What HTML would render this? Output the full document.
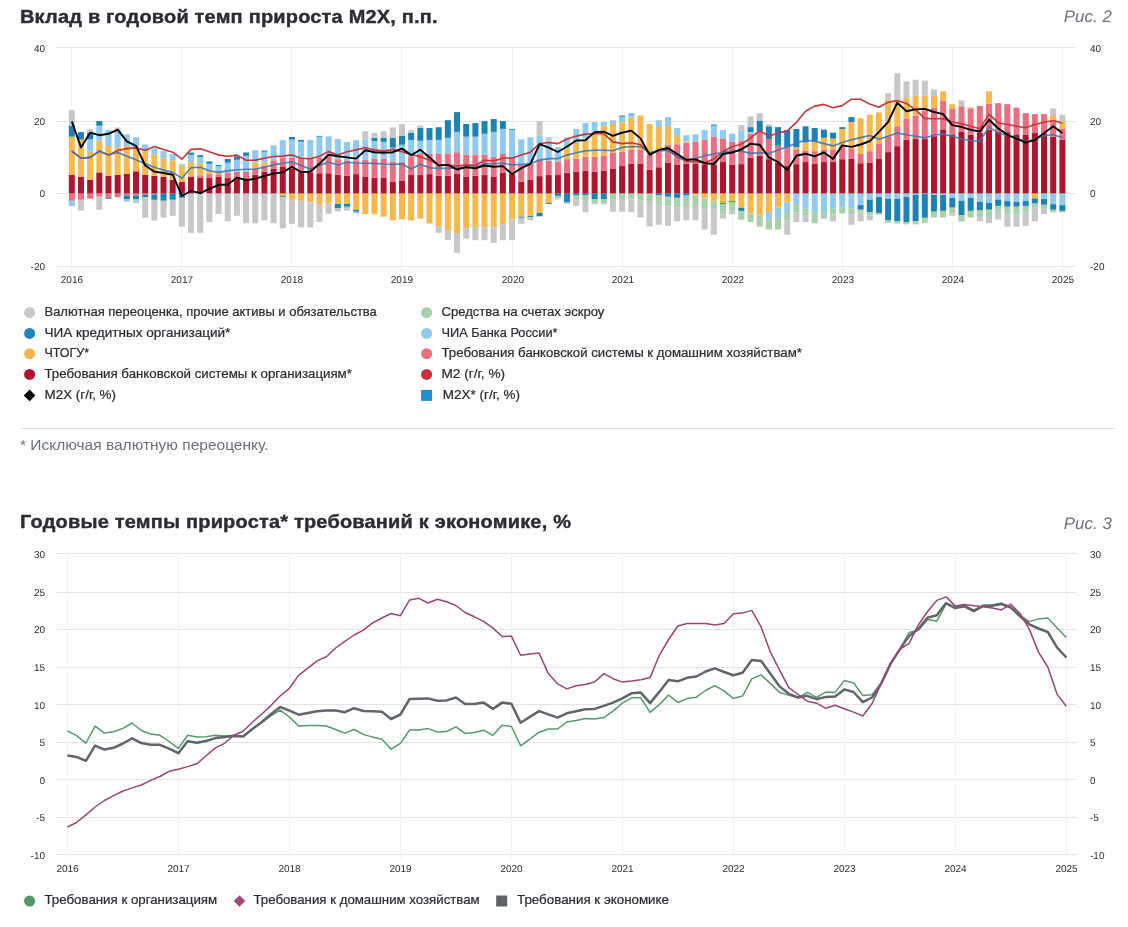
<!DOCTYPE html>
<html lang="ru"><head><meta charset="utf-8"><title>Денежные агрегаты</title>
<style>
html,body{margin:0;padding:0;background:#fff}
body{width:1128px;height:927px;position:relative;overflow:hidden;font-family:"Liberation Sans", sans-serif;color:#2b2d33}
.t{position:absolute;left:20px;font-weight:bold;font-size:18.5px;line-height:22px;white-space:nowrap;color:#2b2d33;letter-spacing:0.2px;-webkit-text-stroke:0.4px #2b2d33;transform:scaleX(1.078);transform-origin:0 0}
.r{position:absolute;right:16px;font-style:italic;font-size:16.8px;line-height:22px;text-rendering:geometricPrecision;letter-spacing:0.1px;color:#6c717a;white-space:nowrap}
.fn{position:absolute;left:20px;top:434.5px;font-size:15.5px;line-height:20px;color:#6c717a;white-space:nowrap}
.hr{position:absolute;left:20px;width:1095px;top:428px;height:1px;background:#e2e2e4}
svg text{font-family:"Liberation Sans", sans-serif;fill:#2b2d33}
svg .ax{font-size:10px;text-rendering:geometricPrecision}
svg .lg{font-size:12.4px;stroke:#2b2d33;stroke-width:0.22px}
</style></head><body>
<div class="t" style="top:5.8px">Вклад в годовой темп прироста М2Х, п.п.</div>
<div class="r" style="top:6.1px">Рис. 2</div>
<svg width="1128" height="927" viewBox="0 0 1128 927" style="position:absolute;left:0;top:0">
<line x1="57" x2="1076" y1="47.5" y2="47.5" stroke="#e4e4e6" stroke-width="1"/>
<text x="45" y="51.9" text-anchor="end" class="ax">40</text>
<text x="1090" y="51.9" text-anchor="start" class="ax">40</text>
<line x1="57" x2="1076" y1="121.5" y2="121.5" stroke="#e4e4e6" stroke-width="1"/>
<text x="45" y="124.6" text-anchor="end" class="ax">20</text>
<text x="1090" y="124.6" text-anchor="start" class="ax">20</text>
<line x1="57" x2="1076" y1="193.5" y2="193.5" stroke="#e4e4e6" stroke-width="1"/>
<text x="45" y="197.3" text-anchor="end" class="ax">0</text>
<text x="1090" y="197.3" text-anchor="start" class="ax">0</text>
<line x1="57" x2="1076" y1="266.5" y2="266.5" stroke="#e4e4e6" stroke-width="1"/>
<text x="45" y="270.0" text-anchor="end" class="ax">-20</text>
<text x="1090" y="270.0" text-anchor="start" class="ax">-20</text>
<line x1="71.5" x2="71.5" y1="47.5" y2="273.5" stroke="#f1f1f3" stroke-width="1"/>
<text x="71.9" y="282.8" text-anchor="middle" class="ax">2016</text>
<line x1="181.5" x2="181.5" y1="47.5" y2="273.5" stroke="#f1f1f3" stroke-width="1"/>
<text x="181.9" y="282.8" text-anchor="middle" class="ax">2017</text>
<line x1="291.5" x2="291.5" y1="47.5" y2="273.5" stroke="#f1f1f3" stroke-width="1"/>
<text x="291.9" y="282.8" text-anchor="middle" class="ax">2018</text>
<line x1="401.5" x2="401.5" y1="47.5" y2="273.5" stroke="#f1f1f3" stroke-width="1"/>
<text x="401.9" y="282.8" text-anchor="middle" class="ax">2019</text>
<line x1="512.5" x2="512.5" y1="47.5" y2="273.5" stroke="#f1f1f3" stroke-width="1"/>
<text x="512.9" y="282.8" text-anchor="middle" class="ax">2020</text>
<line x1="622.5" x2="622.5" y1="47.5" y2="273.5" stroke="#f1f1f3" stroke-width="1"/>
<text x="622.9" y="282.8" text-anchor="middle" class="ax">2021</text>
<line x1="732.5" x2="732.5" y1="47.5" y2="273.5" stroke="#f1f1f3" stroke-width="1"/>
<text x="732.9" y="282.8" text-anchor="middle" class="ax">2022</text>
<line x1="842.5" x2="842.5" y1="47.5" y2="273.5" stroke="#f1f1f3" stroke-width="1"/>
<text x="842.9" y="282.8" text-anchor="middle" class="ax">2023</text>
<line x1="952.5" x2="952.5" y1="47.5" y2="273.5" stroke="#f1f1f3" stroke-width="1"/>
<text x="952.9" y="282.8" text-anchor="middle" class="ax">2024</text>
<line x1="1062.5" x2="1062.5" y1="47.5" y2="273.5" stroke="#f1f1f3" stroke-width="1"/>
<text x="1062.9" y="282.8" text-anchor="middle" class="ax">2025</text>
<rect x="68.80" y="174.73" width="6.0" height="18.87" fill="#b1132c"/>
<rect x="68.80" y="136.68" width="6.0" height="38.06" fill="#f9b94a"/>
<rect x="68.80" y="125.52" width="6.0" height="11.16" fill="#1b82b8"/>
<rect x="68.80" y="110.18" width="6.0" height="15.34" fill="#c7c7c9"/>
<rect x="68.80" y="193.60" width="6.0" height="7.16" fill="#ec6e80"/>
<rect x="68.80" y="200.76" width="6.0" height="5.16" fill="#8ecaf2"/>
<rect x="77.97" y="176.70" width="6.0" height="16.90" fill="#b1132c"/>
<rect x="77.97" y="139.58" width="6.0" height="37.11" fill="#f9b94a"/>
<rect x="77.97" y="132.10" width="6.0" height="7.49" fill="#1b82b8"/>
<rect x="77.97" y="193.60" width="6.0" height="6.22" fill="#ec6e80"/>
<rect x="77.97" y="199.82" width="6.0" height="10.72" fill="#c7c7c9"/>
<rect x="87.14" y="179.68" width="6.0" height="13.92" fill="#b1132c"/>
<rect x="87.14" y="151.69" width="6.0" height="27.99" fill="#f9b94a"/>
<rect x="87.14" y="139.33" width="6.0" height="12.36" fill="#8ecaf2"/>
<rect x="87.14" y="132.68" width="6.0" height="6.65" fill="#1b82b8"/>
<rect x="87.14" y="129.19" width="6.0" height="3.49" fill="#c7c7c9"/>
<rect x="87.14" y="193.60" width="6.0" height="5.05" fill="#ec6e80"/>
<rect x="96.32" y="172.41" width="6.0" height="21.19" fill="#b1132c"/>
<rect x="96.32" y="140.71" width="6.0" height="31.70" fill="#f9b94a"/>
<rect x="96.32" y="125.73" width="6.0" height="14.98" fill="#8ecaf2"/>
<rect x="96.32" y="121.12" width="6.0" height="4.62" fill="#1b82b8"/>
<rect x="96.32" y="193.60" width="6.0" height="3.13" fill="#ec6e80"/>
<rect x="96.32" y="196.73" width="6.0" height="13.01" fill="#c7c7c9"/>
<rect x="105.49" y="175.86" width="6.0" height="17.74" fill="#b1132c"/>
<rect x="105.49" y="145.91" width="6.0" height="29.95" fill="#f9b94a"/>
<rect x="105.49" y="130.13" width="6.0" height="15.78" fill="#8ecaf2"/>
<rect x="105.49" y="193.60" width="6.0" height="4.25" fill="#ec6e80"/>
<rect x="105.49" y="197.85" width="6.0" height="0.95" fill="#1b82b8"/>
<rect x="114.66" y="174.95" width="6.0" height="18.65" fill="#b1132c"/>
<rect x="114.66" y="147.65" width="6.0" height="27.30" fill="#f9b94a"/>
<rect x="114.66" y="129.77" width="6.0" height="17.88" fill="#8ecaf2"/>
<rect x="114.66" y="127.48" width="6.0" height="2.29" fill="#c7c7c9"/>
<rect x="114.66" y="193.60" width="6.0" height="3.67" fill="#ec6e80"/>
<rect x="123.83" y="173.93" width="6.0" height="19.67" fill="#b1132c"/>
<rect x="123.83" y="145.91" width="6.0" height="28.03" fill="#f9b94a"/>
<rect x="123.83" y="134.39" width="6.0" height="11.52" fill="#8ecaf2"/>
<rect x="123.83" y="193.60" width="6.0" height="2.29" fill="#ec6e80"/>
<rect x="123.83" y="195.89" width="6.0" height="3.13" fill="#1b82b8"/>
<rect x="123.83" y="199.02" width="6.0" height="2.54" fill="#8ecaf2"/>
<rect x="133.00" y="171.28" width="6.0" height="22.32" fill="#b1132c"/>
<rect x="133.00" y="147.07" width="6.0" height="24.21" fill="#f9b94a"/>
<rect x="133.00" y="137.26" width="6.0" height="9.81" fill="#8ecaf2"/>
<rect x="133.00" y="193.60" width="6.0" height="1.96" fill="#ec6e80"/>
<rect x="133.00" y="195.56" width="6.0" height="3.45" fill="#1b82b8"/>
<rect x="133.00" y="199.02" width="6.0" height="1.74" fill="#8ecaf2"/>
<rect x="133.00" y="200.76" width="6.0" height="2.29" fill="#c7c7c9"/>
<rect x="142.18" y="174.95" width="6.0" height="18.65" fill="#b1132c"/>
<rect x="142.18" y="151.11" width="6.0" height="23.85" fill="#f9b94a"/>
<rect x="142.18" y="144.42" width="6.0" height="6.69" fill="#8ecaf2"/>
<rect x="142.18" y="193.60" width="6.0" height="1.16" fill="#ec6e80"/>
<rect x="142.18" y="194.76" width="6.0" height="2.29" fill="#1b82b8"/>
<rect x="142.18" y="197.05" width="6.0" height="20.65" fill="#c7c7c9"/>
<rect x="151.35" y="175.86" width="6.0" height="17.74" fill="#b1132c"/>
<rect x="151.35" y="154.34" width="6.0" height="21.52" fill="#f9b94a"/>
<rect x="151.35" y="148.24" width="6.0" height="6.11" fill="#8ecaf2"/>
<rect x="151.35" y="193.60" width="6.0" height="0.80" fill="#ec6e80"/>
<rect x="151.35" y="194.40" width="6.0" height="5.42" fill="#1b82b8"/>
<rect x="151.35" y="199.82" width="6.0" height="20.76" fill="#c7c7c9"/>
<rect x="160.52" y="176.70" width="6.0" height="16.90" fill="#b1132c"/>
<rect x="160.52" y="158.38" width="6.0" height="18.32" fill="#f9b94a"/>
<rect x="160.52" y="151.11" width="6.0" height="7.27" fill="#8ecaf2"/>
<rect x="160.52" y="193.60" width="6.0" height="7.16" fill="#1b82b8"/>
<rect x="160.52" y="200.76" width="6.0" height="16.94" fill="#c7c7c9"/>
<rect x="169.69" y="179.68" width="6.0" height="13.92" fill="#b1132c"/>
<rect x="169.69" y="160.30" width="6.0" height="19.37" fill="#f9b94a"/>
<rect x="169.69" y="153.98" width="6.0" height="6.32" fill="#8ecaf2"/>
<rect x="169.69" y="193.60" width="6.0" height="6.22" fill="#1b82b8"/>
<rect x="169.69" y="199.82" width="6.0" height="15.92" fill="#c7c7c9"/>
<rect x="178.86" y="181.97" width="6.0" height="11.63" fill="#b1132c"/>
<rect x="178.86" y="165.50" width="6.0" height="16.47" fill="#f9b94a"/>
<rect x="178.86" y="164.12" width="6.0" height="1.38" fill="#8ecaf2"/>
<rect x="178.86" y="193.60" width="6.0" height="4.25" fill="#1b82b8"/>
<rect x="178.86" y="197.85" width="6.0" height="28.83" fill="#c7c7c9"/>
<rect x="188.04" y="177.02" width="6.0" height="16.58" fill="#b1132c"/>
<rect x="188.04" y="176.22" width="6.0" height="0.80" fill="#ec6e80"/>
<rect x="188.04" y="162.05" width="6.0" height="14.18" fill="#f9b94a"/>
<rect x="188.04" y="154.78" width="6.0" height="7.27" fill="#8ecaf2"/>
<rect x="188.04" y="152.60" width="6.0" height="2.18" fill="#1b82b8"/>
<rect x="188.04" y="193.60" width="6.0" height="39.19" fill="#c7c7c9"/>
<rect x="197.21" y="177.82" width="6.0" height="15.78" fill="#b1132c"/>
<rect x="197.21" y="175.32" width="6.0" height="2.51" fill="#ec6e80"/>
<rect x="197.21" y="163.79" width="6.0" height="11.52" fill="#f9b94a"/>
<rect x="197.21" y="156.85" width="6.0" height="6.94" fill="#8ecaf2"/>
<rect x="197.21" y="155.14" width="6.0" height="1.71" fill="#1b82b8"/>
<rect x="197.21" y="193.60" width="6.0" height="39.19" fill="#c7c7c9"/>
<rect x="206.38" y="177.82" width="6.0" height="15.78" fill="#b1132c"/>
<rect x="206.38" y="174.15" width="6.0" height="3.67" fill="#ec6e80"/>
<rect x="206.38" y="170.12" width="6.0" height="4.03" fill="#f9b94a"/>
<rect x="206.38" y="163.79" width="6.0" height="6.32" fill="#8ecaf2"/>
<rect x="206.38" y="161.47" width="6.0" height="2.33" fill="#1b82b8"/>
<rect x="206.38" y="193.60" width="6.0" height="28.46" fill="#c7c7c9"/>
<rect x="215.55" y="176.70" width="6.0" height="16.90" fill="#b1132c"/>
<rect x="215.55" y="174.15" width="6.0" height="2.54" fill="#ec6e80"/>
<rect x="215.55" y="171.83" width="6.0" height="2.33" fill="#f9b94a"/>
<rect x="215.55" y="166.08" width="6.0" height="5.74" fill="#8ecaf2"/>
<rect x="215.55" y="164.92" width="6.0" height="1.16" fill="#1b82b8"/>
<rect x="215.55" y="193.60" width="6.0" height="20.39" fill="#c7c7c9"/>
<rect x="224.72" y="177.82" width="6.0" height="15.78" fill="#b1132c"/>
<rect x="224.72" y="172.77" width="6.0" height="5.05" fill="#ec6e80"/>
<rect x="224.72" y="162.63" width="6.0" height="10.14" fill="#8ecaf2"/>
<rect x="224.72" y="158.92" width="6.0" height="3.71" fill="#1b82b8"/>
<rect x="224.72" y="193.60" width="6.0" height="27.66" fill="#c7c7c9"/>
<rect x="233.90" y="177.61" width="6.0" height="15.99" fill="#b1132c"/>
<rect x="233.90" y="171.83" width="6.0" height="5.78" fill="#ec6e80"/>
<rect x="233.90" y="159.76" width="6.0" height="12.07" fill="#8ecaf2"/>
<rect x="233.90" y="156.27" width="6.0" height="3.49" fill="#1b82b8"/>
<rect x="233.90" y="193.60" width="6.0" height="22.14" fill="#c7c7c9"/>
<rect x="243.07" y="178.19" width="6.0" height="15.41" fill="#b1132c"/>
<rect x="243.07" y="171.83" width="6.0" height="6.36" fill="#ec6e80"/>
<rect x="243.07" y="155.72" width="6.0" height="16.10" fill="#8ecaf2"/>
<rect x="243.07" y="152.49" width="6.0" height="3.24" fill="#1b82b8"/>
<rect x="243.07" y="193.60" width="6.0" height="29.63" fill="#c7c7c9"/>
<rect x="252.24" y="174.73" width="6.0" height="18.87" fill="#b1132c"/>
<rect x="252.24" y="168.37" width="6.0" height="6.36" fill="#ec6e80"/>
<rect x="252.24" y="162.63" width="6.0" height="5.74" fill="#f9b94a"/>
<rect x="252.24" y="150.16" width="6.0" height="12.47" fill="#8ecaf2"/>
<rect x="252.24" y="193.60" width="6.0" height="29.63" fill="#c7c7c9"/>
<rect x="261.41" y="171.83" width="6.0" height="21.77" fill="#b1132c"/>
<rect x="261.41" y="165.50" width="6.0" height="6.32" fill="#ec6e80"/>
<rect x="261.41" y="162.63" width="6.0" height="2.87" fill="#f9b94a"/>
<rect x="261.41" y="151.69" width="6.0" height="10.94" fill="#8ecaf2"/>
<rect x="261.41" y="150.53" width="6.0" height="1.16" fill="#1b82b8"/>
<rect x="261.41" y="193.60" width="6.0" height="26.75" fill="#c7c7c9"/>
<rect x="270.58" y="168.95" width="6.0" height="24.65" fill="#b1132c"/>
<rect x="270.58" y="160.30" width="6.0" height="8.65" fill="#ec6e80"/>
<rect x="270.58" y="145.33" width="6.0" height="14.98" fill="#8ecaf2"/>
<rect x="270.58" y="193.60" width="6.0" height="29.63" fill="#c7c7c9"/>
<rect x="279.76" y="166.99" width="6.0" height="26.61" fill="#b1132c"/>
<rect x="279.76" y="157.43" width="6.0" height="9.56" fill="#ec6e80"/>
<rect x="279.76" y="140.17" width="6.0" height="17.27" fill="#8ecaf2"/>
<rect x="279.76" y="193.60" width="6.0" height="2.54" fill="#f9b94a"/>
<rect x="279.76" y="196.14" width="6.0" height="1.13" fill="#1b82b8"/>
<rect x="279.76" y="197.27" width="6.0" height="31.12" fill="#c7c7c9"/>
<rect x="288.93" y="168.37" width="6.0" height="25.23" fill="#b1132c"/>
<rect x="288.93" y="158.01" width="6.0" height="10.36" fill="#ec6e80"/>
<rect x="288.93" y="139.58" width="6.0" height="18.43" fill="#8ecaf2"/>
<rect x="288.93" y="137.04" width="6.0" height="2.54" fill="#1b82b8"/>
<rect x="288.93" y="193.60" width="6.0" height="6.58" fill="#f9b94a"/>
<rect x="288.93" y="200.18" width="6.0" height="23.63" fill="#c7c7c9"/>
<rect x="298.10" y="172.41" width="6.0" height="21.19" fill="#b1132c"/>
<rect x="298.10" y="158.01" width="6.0" height="14.39" fill="#ec6e80"/>
<rect x="298.10" y="141.66" width="6.0" height="16.36" fill="#8ecaf2"/>
<rect x="298.10" y="139.91" width="6.0" height="1.74" fill="#1b82b8"/>
<rect x="298.10" y="193.60" width="6.0" height="7.16" fill="#f9b94a"/>
<rect x="298.10" y="200.76" width="6.0" height="26.72" fill="#c7c7c9"/>
<rect x="307.27" y="172.99" width="6.0" height="20.61" fill="#b1132c"/>
<rect x="307.27" y="157.43" width="6.0" height="15.56" fill="#ec6e80"/>
<rect x="307.27" y="139.91" width="6.0" height="17.52" fill="#8ecaf2"/>
<rect x="307.27" y="193.60" width="6.0" height="8.87" fill="#f9b94a"/>
<rect x="307.27" y="202.47" width="6.0" height="25.01" fill="#c7c7c9"/>
<rect x="316.44" y="173.24" width="6.0" height="20.36" fill="#b1132c"/>
<rect x="316.44" y="157.43" width="6.0" height="15.81" fill="#ec6e80"/>
<rect x="316.44" y="136.68" width="6.0" height="20.76" fill="#8ecaf2"/>
<rect x="316.44" y="135.88" width="6.0" height="0.80" fill="#1b82b8"/>
<rect x="316.44" y="193.60" width="6.0" height="11.20" fill="#f9b94a"/>
<rect x="316.44" y="204.80" width="6.0" height="17.27" fill="#c7c7c9"/>
<rect x="325.62" y="173.24" width="6.0" height="20.36" fill="#b1132c"/>
<rect x="325.62" y="155.72" width="6.0" height="17.52" fill="#ec6e80"/>
<rect x="325.62" y="136.35" width="6.0" height="19.37" fill="#8ecaf2"/>
<rect x="325.62" y="193.60" width="6.0" height="10.03" fill="#f9b94a"/>
<rect x="325.62" y="203.63" width="6.0" height="10.14" fill="#c7c7c9"/>
<rect x="334.79" y="174.73" width="6.0" height="18.87" fill="#b1132c"/>
<rect x="334.79" y="159.18" width="6.0" height="15.56" fill="#ec6e80"/>
<rect x="334.79" y="139.00" width="6.0" height="20.17" fill="#8ecaf2"/>
<rect x="334.79" y="193.60" width="6.0" height="10.36" fill="#f9b94a"/>
<rect x="334.79" y="203.96" width="6.0" height="4.03" fill="#1b82b8"/>
<rect x="334.79" y="207.99" width="6.0" height="3.34" fill="#c7c7c9"/>
<rect x="343.96" y="175.86" width="6.0" height="17.74" fill="#b1132c"/>
<rect x="343.96" y="160.30" width="6.0" height="15.56" fill="#ec6e80"/>
<rect x="343.96" y="141.87" width="6.0" height="18.43" fill="#8ecaf2"/>
<rect x="343.96" y="193.60" width="6.0" height="10.36" fill="#f9b94a"/>
<rect x="343.96" y="203.96" width="6.0" height="2.76" fill="#1b82b8"/>
<rect x="343.96" y="206.72" width="6.0" height="1.53" fill="#8ecaf2"/>
<rect x="343.96" y="208.25" width="6.0" height="2.29" fill="#c7c7c9"/>
<rect x="353.13" y="174.15" width="6.0" height="19.45" fill="#b1132c"/>
<rect x="353.13" y="160.30" width="6.0" height="13.85" fill="#ec6e80"/>
<rect x="353.13" y="140.17" width="6.0" height="20.14" fill="#8ecaf2"/>
<rect x="353.13" y="193.60" width="6.0" height="16.36" fill="#f9b94a"/>
<rect x="353.13" y="209.96" width="6.0" height="1.74" fill="#1b82b8"/>
<rect x="353.13" y="211.70" width="6.0" height="1.71" fill="#8ecaf2"/>
<rect x="362.30" y="177.02" width="6.0" height="16.58" fill="#b1132c"/>
<rect x="362.30" y="159.76" width="6.0" height="17.27" fill="#ec6e80"/>
<rect x="362.30" y="139.58" width="6.0" height="20.17" fill="#8ecaf2"/>
<rect x="362.30" y="131.26" width="6.0" height="8.32" fill="#c7c7c9"/>
<rect x="362.30" y="193.60" width="6.0" height="20.39" fill="#f9b94a"/>
<rect x="371.48" y="177.82" width="6.0" height="15.78" fill="#b1132c"/>
<rect x="371.48" y="158.59" width="6.0" height="19.23" fill="#ec6e80"/>
<rect x="371.48" y="140.97" width="6.0" height="17.63" fill="#8ecaf2"/>
<rect x="371.48" y="137.84" width="6.0" height="3.13" fill="#1b82b8"/>
<rect x="371.48" y="133.00" width="6.0" height="4.83" fill="#c7c7c9"/>
<rect x="371.48" y="193.60" width="6.0" height="20.61" fill="#f9b94a"/>
<rect x="380.65" y="177.82" width="6.0" height="15.78" fill="#b1132c"/>
<rect x="380.65" y="158.59" width="6.0" height="19.23" fill="#ec6e80"/>
<rect x="380.65" y="141.87" width="6.0" height="16.72" fill="#8ecaf2"/>
<rect x="380.65" y="137.84" width="6.0" height="4.03" fill="#1b82b8"/>
<rect x="380.65" y="131.26" width="6.0" height="6.58" fill="#c7c7c9"/>
<rect x="380.65" y="193.60" width="6.0" height="23.05" fill="#f9b94a"/>
<rect x="389.82" y="181.97" width="6.0" height="11.63" fill="#b1132c"/>
<rect x="389.82" y="161.47" width="6.0" height="20.50" fill="#ec6e80"/>
<rect x="389.82" y="147.65" width="6.0" height="13.81" fill="#8ecaf2"/>
<rect x="389.82" y="137.84" width="6.0" height="9.81" fill="#1b82b8"/>
<rect x="389.82" y="127.48" width="6.0" height="10.36" fill="#c7c7c9"/>
<rect x="389.82" y="193.60" width="6.0" height="26.75" fill="#f9b94a"/>
<rect x="398.99" y="180.48" width="6.0" height="13.12" fill="#b1132c"/>
<rect x="398.99" y="162.05" width="6.0" height="18.43" fill="#ec6e80"/>
<rect x="398.99" y="144.75" width="6.0" height="17.30" fill="#8ecaf2"/>
<rect x="398.99" y="135.88" width="6.0" height="8.87" fill="#1b82b8"/>
<rect x="398.99" y="124.03" width="6.0" height="11.85" fill="#c7c7c9"/>
<rect x="398.99" y="193.60" width="6.0" height="25.92" fill="#f9b94a"/>
<rect x="408.16" y="175.06" width="6.0" height="18.54" fill="#b1132c"/>
<rect x="408.16" y="156.27" width="6.0" height="18.79" fill="#ec6e80"/>
<rect x="408.16" y="139.91" width="6.0" height="16.36" fill="#8ecaf2"/>
<rect x="408.16" y="132.68" width="6.0" height="7.23" fill="#1b82b8"/>
<rect x="408.16" y="130.13" width="6.0" height="2.54" fill="#c7c7c9"/>
<rect x="408.16" y="193.60" width="6.0" height="26.97" fill="#f9b94a"/>
<rect x="417.34" y="175.06" width="6.0" height="18.54" fill="#b1132c"/>
<rect x="417.34" y="153.40" width="6.0" height="21.66" fill="#ec6e80"/>
<rect x="417.34" y="140.71" width="6.0" height="12.69" fill="#8ecaf2"/>
<rect x="417.34" y="127.81" width="6.0" height="12.90" fill="#1b82b8"/>
<rect x="417.34" y="125.52" width="6.0" height="2.29" fill="#c7c7c9"/>
<rect x="417.34" y="193.60" width="6.0" height="25.01" fill="#f9b94a"/>
<rect x="426.51" y="174.15" width="6.0" height="19.45" fill="#b1132c"/>
<rect x="426.51" y="153.40" width="6.0" height="20.76" fill="#ec6e80"/>
<rect x="426.51" y="139.91" width="6.0" height="13.49" fill="#8ecaf2"/>
<rect x="426.51" y="128.06" width="6.0" height="11.85" fill="#1b82b8"/>
<rect x="426.51" y="193.60" width="6.0" height="29.95" fill="#f9b94a"/>
<rect x="435.68" y="175.86" width="6.0" height="17.74" fill="#b1132c"/>
<rect x="435.68" y="153.98" width="6.0" height="21.88" fill="#ec6e80"/>
<rect x="435.68" y="139.91" width="6.0" height="14.07" fill="#8ecaf2"/>
<rect x="435.68" y="127.22" width="6.0" height="12.69" fill="#1b82b8"/>
<rect x="435.68" y="193.60" width="6.0" height="33.08" fill="#f9b94a"/>
<rect x="435.68" y="226.68" width="6.0" height="6.11" fill="#c7c7c9"/>
<rect x="444.85" y="175.86" width="6.0" height="17.74" fill="#b1132c"/>
<rect x="444.85" y="153.98" width="6.0" height="21.88" fill="#ec6e80"/>
<rect x="444.85" y="137.84" width="6.0" height="16.14" fill="#8ecaf2"/>
<rect x="444.85" y="120.21" width="6.0" height="17.63" fill="#1b82b8"/>
<rect x="444.85" y="193.60" width="6.0" height="36.53" fill="#f9b94a"/>
<rect x="444.85" y="230.13" width="6.0" height="9.81" fill="#c7c7c9"/>
<rect x="454.02" y="173.93" width="6.0" height="19.67" fill="#b1132c"/>
<rect x="454.02" y="152.23" width="6.0" height="21.70" fill="#ec6e80"/>
<rect x="454.02" y="131.84" width="6.0" height="20.39" fill="#8ecaf2"/>
<rect x="454.02" y="112.14" width="6.0" height="19.70" fill="#1b82b8"/>
<rect x="454.02" y="193.60" width="6.0" height="39.40" fill="#f9b94a"/>
<rect x="454.02" y="233.00" width="6.0" height="19.85" fill="#c7c7c9"/>
<rect x="463.20" y="177.02" width="6.0" height="16.58" fill="#b1132c"/>
<rect x="463.20" y="154.56" width="6.0" height="22.46" fill="#ec6e80"/>
<rect x="463.20" y="136.68" width="6.0" height="17.88" fill="#8ecaf2"/>
<rect x="463.20" y="124.03" width="6.0" height="12.65" fill="#1b82b8"/>
<rect x="463.20" y="193.60" width="6.0" height="34.79" fill="#f9b94a"/>
<rect x="463.20" y="228.39" width="6.0" height="10.14" fill="#c7c7c9"/>
<rect x="472.37" y="175.86" width="6.0" height="17.74" fill="#b1132c"/>
<rect x="472.37" y="155.14" width="6.0" height="20.72" fill="#ec6e80"/>
<rect x="472.37" y="136.68" width="6.0" height="18.47" fill="#8ecaf2"/>
<rect x="472.37" y="123.08" width="6.0" height="13.59" fill="#1b82b8"/>
<rect x="472.37" y="193.60" width="6.0" height="33.66" fill="#f9b94a"/>
<rect x="472.37" y="227.26" width="6.0" height="12.90" fill="#c7c7c9"/>
<rect x="481.54" y="175.06" width="6.0" height="18.54" fill="#b1132c"/>
<rect x="481.54" y="154.56" width="6.0" height="20.50" fill="#ec6e80"/>
<rect x="481.54" y="133.80" width="6.0" height="20.76" fill="#8ecaf2"/>
<rect x="481.54" y="121.12" width="6.0" height="12.69" fill="#1b82b8"/>
<rect x="481.54" y="193.60" width="6.0" height="33.66" fill="#f9b94a"/>
<rect x="481.54" y="227.26" width="6.0" height="12.90" fill="#c7c7c9"/>
<rect x="490.71" y="177.02" width="6.0" height="16.58" fill="#b1132c"/>
<rect x="490.71" y="156.85" width="6.0" height="20.17" fill="#ec6e80"/>
<rect x="490.71" y="131.84" width="6.0" height="25.01" fill="#8ecaf2"/>
<rect x="490.71" y="119.05" width="6.0" height="12.80" fill="#1b82b8"/>
<rect x="490.71" y="193.60" width="6.0" height="33.66" fill="#f9b94a"/>
<rect x="490.71" y="227.26" width="6.0" height="15.56" fill="#c7c7c9"/>
<rect x="499.88" y="172.99" width="6.0" height="20.61" fill="#b1132c"/>
<rect x="499.88" y="153.98" width="6.0" height="19.01" fill="#ec6e80"/>
<rect x="499.88" y="128.86" width="6.0" height="25.12" fill="#8ecaf2"/>
<rect x="499.88" y="121.12" width="6.0" height="7.74" fill="#1b82b8"/>
<rect x="499.88" y="193.60" width="6.0" height="30.75" fill="#f9b94a"/>
<rect x="499.88" y="224.35" width="6.0" height="15.81" fill="#c7c7c9"/>
<rect x="509.06" y="174.15" width="6.0" height="19.45" fill="#b1132c"/>
<rect x="509.06" y="157.43" width="6.0" height="16.72" fill="#ec6e80"/>
<rect x="509.06" y="129.77" width="6.0" height="27.66" fill="#8ecaf2"/>
<rect x="509.06" y="128.97" width="6.0" height="0.80" fill="#1b82b8"/>
<rect x="509.06" y="193.60" width="6.0" height="25.59" fill="#f9b94a"/>
<rect x="509.06" y="219.19" width="6.0" height="20.97" fill="#c7c7c9"/>
<rect x="518.23" y="181.64" width="6.0" height="11.96" fill="#b1132c"/>
<rect x="518.23" y="164.34" width="6.0" height="17.30" fill="#ec6e80"/>
<rect x="518.23" y="139.33" width="6.0" height="25.01" fill="#8ecaf2"/>
<rect x="518.23" y="193.60" width="6.0" height="23.26" fill="#f9b94a"/>
<rect x="518.23" y="216.86" width="6.0" height="0.95" fill="#1b82b8"/>
<rect x="518.23" y="217.81" width="6.0" height="6.00" fill="#c7c7c9"/>
<rect x="527.40" y="179.90" width="6.0" height="13.70" fill="#b1132c"/>
<rect x="527.40" y="163.79" width="6.0" height="16.10" fill="#ec6e80"/>
<rect x="527.40" y="137.26" width="6.0" height="26.54" fill="#8ecaf2"/>
<rect x="527.40" y="193.60" width="6.0" height="22.46" fill="#f9b94a"/>
<rect x="527.40" y="216.06" width="6.0" height="1.05" fill="#1b82b8"/>
<rect x="527.40" y="217.12" width="6.0" height="3.24" fill="#c7c7c9"/>
<rect x="536.57" y="176.12" width="6.0" height="17.48" fill="#b1132c"/>
<rect x="536.57" y="159.18" width="6.0" height="16.94" fill="#ec6e80"/>
<rect x="536.57" y="135.55" width="6.0" height="23.63" fill="#8ecaf2"/>
<rect x="536.57" y="121.12" width="6.0" height="14.43" fill="#c7c7c9"/>
<rect x="536.57" y="193.60" width="6.0" height="19.23" fill="#f9b94a"/>
<rect x="536.57" y="212.83" width="6.0" height="3.49" fill="#1b82b8"/>
<rect x="545.74" y="175.06" width="6.0" height="18.54" fill="#b1132c"/>
<rect x="545.74" y="160.88" width="6.0" height="14.18" fill="#ec6e80"/>
<rect x="545.74" y="140.71" width="6.0" height="20.17" fill="#8ecaf2"/>
<rect x="545.74" y="137.26" width="6.0" height="3.45" fill="#c7c7c9"/>
<rect x="545.74" y="193.60" width="6.0" height="9.45" fill="#f9b94a"/>
<rect x="545.74" y="203.05" width="6.0" height="0.91" fill="#1b82b8"/>
<rect x="554.92" y="175.06" width="6.0" height="18.54" fill="#b1132c"/>
<rect x="554.92" y="161.47" width="6.0" height="13.59" fill="#ec6e80"/>
<rect x="554.92" y="147.07" width="6.0" height="14.39" fill="#8ecaf2"/>
<rect x="554.92" y="193.60" width="6.0" height="2.29" fill="#1b82b8"/>
<rect x="554.92" y="195.89" width="6.0" height="2.54" fill="#a6d1a9"/>
<rect x="554.92" y="198.43" width="6.0" height="1.16" fill="#c7c7c9"/>
<rect x="564.09" y="172.77" width="6.0" height="20.83" fill="#b1132c"/>
<rect x="564.09" y="159.18" width="6.0" height="13.59" fill="#ec6e80"/>
<rect x="564.09" y="148.24" width="6.0" height="10.94" fill="#f9b94a"/>
<rect x="564.09" y="137.51" width="6.0" height="10.72" fill="#8ecaf2"/>
<rect x="564.09" y="193.60" width="6.0" height="8.87" fill="#1b82b8"/>
<rect x="564.09" y="202.47" width="6.0" height="1.16" fill="#8ecaf2"/>
<rect x="573.26" y="171.83" width="6.0" height="21.77" fill="#b1132c"/>
<rect x="573.26" y="158.59" width="6.0" height="13.23" fill="#ec6e80"/>
<rect x="573.26" y="143.04" width="6.0" height="15.56" fill="#f9b94a"/>
<rect x="573.26" y="128.97" width="6.0" height="14.07" fill="#8ecaf2"/>
<rect x="573.26" y="193.60" width="6.0" height="1.96" fill="#1b82b8"/>
<rect x="573.26" y="195.56" width="6.0" height="3.45" fill="#a6d1a9"/>
<rect x="573.26" y="199.02" width="6.0" height="6.91" fill="#c7c7c9"/>
<rect x="582.43" y="170.92" width="6.0" height="22.68" fill="#b1132c"/>
<rect x="582.43" y="156.85" width="6.0" height="14.07" fill="#ec6e80"/>
<rect x="582.43" y="138.42" width="6.0" height="18.43" fill="#f9b94a"/>
<rect x="582.43" y="123.08" width="6.0" height="15.34" fill="#8ecaf2"/>
<rect x="582.43" y="193.60" width="6.0" height="1.38" fill="#1b82b8"/>
<rect x="582.43" y="194.98" width="6.0" height="4.03" fill="#a6d1a9"/>
<rect x="582.43" y="199.02" width="6.0" height="13.27" fill="#c7c7c9"/>
<rect x="591.60" y="171.83" width="6.0" height="21.77" fill="#b1132c"/>
<rect x="591.60" y="156.85" width="6.0" height="14.98" fill="#ec6e80"/>
<rect x="591.60" y="131.51" width="6.0" height="25.34" fill="#f9b94a"/>
<rect x="591.60" y="122.06" width="6.0" height="9.45" fill="#8ecaf2"/>
<rect x="591.60" y="193.60" width="6.0" height="5.42" fill="#1b82b8"/>
<rect x="591.60" y="199.02" width="6.0" height="4.62" fill="#a6d1a9"/>
<rect x="591.60" y="203.63" width="6.0" height="0.58" fill="#c7c7c9"/>
<rect x="600.78" y="170.92" width="6.0" height="22.68" fill="#b1132c"/>
<rect x="600.78" y="155.72" width="6.0" height="15.19" fill="#ec6e80"/>
<rect x="600.78" y="125.73" width="6.0" height="29.99" fill="#f9b94a"/>
<rect x="600.78" y="122.06" width="6.0" height="3.67" fill="#8ecaf2"/>
<rect x="600.78" y="193.60" width="6.0" height="5.42" fill="#1b82b8"/>
<rect x="600.78" y="199.02" width="6.0" height="4.62" fill="#a6d1a9"/>
<rect x="600.78" y="203.63" width="6.0" height="0.80" fill="#c7c7c9"/>
<rect x="609.95" y="168.95" width="6.0" height="24.65" fill="#b1132c"/>
<rect x="609.95" y="152.82" width="6.0" height="16.14" fill="#ec6e80"/>
<rect x="609.95" y="124.03" width="6.0" height="28.79" fill="#f9b94a"/>
<rect x="609.95" y="120.21" width="6.0" height="3.82" fill="#8ecaf2"/>
<rect x="609.95" y="193.60" width="6.0" height="5.42" fill="#a6d1a9"/>
<rect x="609.95" y="199.02" width="6.0" height="12.69" fill="#c7c7c9"/>
<rect x="619.12" y="166.08" width="6.0" height="27.52" fill="#b1132c"/>
<rect x="619.12" y="151.69" width="6.0" height="14.39" fill="#ec6e80"/>
<rect x="619.12" y="122.28" width="6.0" height="29.41" fill="#f9b94a"/>
<rect x="619.12" y="116.76" width="6.0" height="5.53" fill="#8ecaf2"/>
<rect x="619.12" y="115.59" width="6.0" height="1.16" fill="#1b82b8"/>
<rect x="619.12" y="193.60" width="6.0" height="5.42" fill="#a6d1a9"/>
<rect x="619.12" y="199.02" width="6.0" height="12.69" fill="#c7c7c9"/>
<rect x="628.29" y="163.54" width="6.0" height="30.06" fill="#b1132c"/>
<rect x="628.29" y="149.94" width="6.0" height="13.59" fill="#ec6e80"/>
<rect x="628.29" y="117.66" width="6.0" height="32.28" fill="#f9b94a"/>
<rect x="628.29" y="114.58" width="6.0" height="3.09" fill="#8ecaf2"/>
<rect x="628.29" y="113.63" width="6.0" height="0.95" fill="#1b82b8"/>
<rect x="628.29" y="193.60" width="6.0" height="6.00" fill="#a6d1a9"/>
<rect x="628.29" y="199.60" width="6.0" height="12.69" fill="#c7c7c9"/>
<rect x="637.46" y="163.54" width="6.0" height="30.06" fill="#b1132c"/>
<rect x="637.46" y="149.94" width="6.0" height="13.59" fill="#ec6e80"/>
<rect x="637.46" y="115.59" width="6.0" height="34.35" fill="#f9b94a"/>
<rect x="637.46" y="193.60" width="6.0" height="7.16" fill="#a6d1a9"/>
<rect x="637.46" y="200.76" width="6.0" height="16.68" fill="#c7c7c9"/>
<rect x="646.64" y="169.75" width="6.0" height="23.85" fill="#b1132c"/>
<rect x="646.64" y="154.56" width="6.0" height="15.19" fill="#ec6e80"/>
<rect x="646.64" y="124.03" width="6.0" height="30.53" fill="#f9b94a"/>
<rect x="646.64" y="193.60" width="6.0" height="9.45" fill="#a6d1a9"/>
<rect x="646.64" y="203.05" width="6.0" height="23.41" fill="#c7c7c9"/>
<rect x="655.81" y="167.25" width="6.0" height="26.35" fill="#b1132c"/>
<rect x="655.81" y="151.11" width="6.0" height="16.14" fill="#ec6e80"/>
<rect x="655.81" y="126.90" width="6.0" height="24.21" fill="#f9b94a"/>
<rect x="655.81" y="120.21" width="6.0" height="6.69" fill="#8ecaf2"/>
<rect x="655.81" y="193.60" width="6.0" height="1.38" fill="#1b82b8"/>
<rect x="655.81" y="194.98" width="6.0" height="9.81" fill="#a6d1a9"/>
<rect x="655.81" y="204.80" width="6.0" height="19.92" fill="#c7c7c9"/>
<rect x="664.98" y="162.96" width="6.0" height="30.64" fill="#b1132c"/>
<rect x="664.98" y="144.75" width="6.0" height="18.21" fill="#ec6e80"/>
<rect x="664.98" y="126.10" width="6.0" height="18.65" fill="#f9b94a"/>
<rect x="664.98" y="117.08" width="6.0" height="9.01" fill="#8ecaf2"/>
<rect x="664.98" y="193.60" width="6.0" height="3.13" fill="#1b82b8"/>
<rect x="664.98" y="196.73" width="6.0" height="1.71" fill="#8ecaf2"/>
<rect x="664.98" y="198.43" width="6.0" height="8.07" fill="#a6d1a9"/>
<rect x="664.98" y="206.50" width="6.0" height="19.27" fill="#c7c7c9"/>
<rect x="674.15" y="164.92" width="6.0" height="28.68" fill="#b1132c"/>
<rect x="674.15" y="144.20" width="6.0" height="20.72" fill="#ec6e80"/>
<rect x="674.15" y="135.88" width="6.0" height="8.32" fill="#f9b94a"/>
<rect x="674.15" y="128.06" width="6.0" height="7.82" fill="#8ecaf2"/>
<rect x="674.15" y="193.60" width="6.0" height="4.25" fill="#1b82b8"/>
<rect x="674.15" y="197.85" width="6.0" height="9.56" fill="#a6d1a9"/>
<rect x="674.15" y="207.41" width="6.0" height="13.85" fill="#c7c7c9"/>
<rect x="683.32" y="163.79" width="6.0" height="29.81" fill="#b1132c"/>
<rect x="683.32" y="142.82" width="6.0" height="20.97" fill="#ec6e80"/>
<rect x="683.32" y="141.29" width="6.0" height="1.53" fill="#f9b94a"/>
<rect x="683.32" y="135.19" width="6.0" height="6.11" fill="#8ecaf2"/>
<rect x="683.32" y="193.60" width="6.0" height="1.96" fill="#1b82b8"/>
<rect x="683.32" y="195.56" width="6.0" height="2.29" fill="#8ecaf2"/>
<rect x="683.32" y="197.85" width="6.0" height="9.23" fill="#a6d1a9"/>
<rect x="683.32" y="207.09" width="6.0" height="13.27" fill="#c7c7c9"/>
<rect x="692.50" y="163.79" width="6.0" height="29.81" fill="#b1132c"/>
<rect x="692.50" y="141.66" width="6.0" height="22.14" fill="#ec6e80"/>
<rect x="692.50" y="134.39" width="6.0" height="7.27" fill="#8ecaf2"/>
<rect x="692.50" y="193.60" width="6.0" height="1.96" fill="#f9b94a"/>
<rect x="692.50" y="195.56" width="6.0" height="10.36" fill="#a6d1a9"/>
<rect x="692.50" y="205.92" width="6.0" height="14.43" fill="#c7c7c9"/>
<rect x="701.67" y="164.34" width="6.0" height="29.26" fill="#b1132c"/>
<rect x="701.67" y="139.58" width="6.0" height="24.75" fill="#ec6e80"/>
<rect x="701.67" y="130.13" width="6.0" height="9.45" fill="#8ecaf2"/>
<rect x="701.67" y="193.60" width="6.0" height="4.83" fill="#f9b94a"/>
<rect x="701.67" y="198.43" width="6.0" height="9.81" fill="#a6d1a9"/>
<rect x="701.67" y="208.25" width="6.0" height="21.30" fill="#c7c7c9"/>
<rect x="710.84" y="164.70" width="6.0" height="28.90" fill="#b1132c"/>
<rect x="710.84" y="137.04" width="6.0" height="27.66" fill="#ec6e80"/>
<rect x="710.84" y="125.73" width="6.0" height="11.30" fill="#8ecaf2"/>
<rect x="710.84" y="124.61" width="6.0" height="1.13" fill="#1b82b8"/>
<rect x="710.84" y="193.60" width="6.0" height="7.71" fill="#f9b94a"/>
<rect x="710.84" y="201.31" width="6.0" height="7.49" fill="#a6d1a9"/>
<rect x="710.84" y="208.79" width="6.0" height="25.95" fill="#c7c7c9"/>
<rect x="720.01" y="162.05" width="6.0" height="31.55" fill="#b1132c"/>
<rect x="720.01" y="139.00" width="6.0" height="23.05" fill="#ec6e80"/>
<rect x="720.01" y="130.13" width="6.0" height="8.87" fill="#8ecaf2"/>
<rect x="720.01" y="193.60" width="6.0" height="9.45" fill="#f9b94a"/>
<rect x="720.01" y="203.05" width="6.0" height="0.91" fill="#1b82b8"/>
<rect x="720.01" y="203.96" width="6.0" height="10.61" fill="#a6d1a9"/>
<rect x="720.01" y="214.57" width="6.0" height="4.03" fill="#c7c7c9"/>
<rect x="729.18" y="164.92" width="6.0" height="28.68" fill="#b1132c"/>
<rect x="729.18" y="141.66" width="6.0" height="23.26" fill="#ec6e80"/>
<rect x="729.18" y="133.59" width="6.0" height="8.07" fill="#8ecaf2"/>
<rect x="729.18" y="193.60" width="6.0" height="7.38" fill="#f9b94a"/>
<rect x="729.18" y="200.98" width="6.0" height="0.91" fill="#1b82b8"/>
<rect x="729.18" y="201.89" width="6.0" height="9.23" fill="#a6d1a9"/>
<rect x="729.18" y="211.12" width="6.0" height="3.09" fill="#c7c7c9"/>
<rect x="738.36" y="164.12" width="6.0" height="29.48" fill="#b1132c"/>
<rect x="738.36" y="140.71" width="6.0" height="23.41" fill="#ec6e80"/>
<rect x="738.36" y="130.35" width="6.0" height="10.36" fill="#8ecaf2"/>
<rect x="738.36" y="125.15" width="6.0" height="5.20" fill="#c7c7c9"/>
<rect x="738.36" y="193.60" width="6.0" height="14.07" fill="#f9b94a"/>
<rect x="738.36" y="207.67" width="6.0" height="3.24" fill="#1b82b8"/>
<rect x="738.36" y="210.90" width="6.0" height="8.87" fill="#a6d1a9"/>
<rect x="747.53" y="157.80" width="6.0" height="35.80" fill="#b1132c"/>
<rect x="747.53" y="133.80" width="6.0" height="23.99" fill="#ec6e80"/>
<rect x="747.53" y="132.10" width="6.0" height="1.71" fill="#8ecaf2"/>
<rect x="747.53" y="127.12" width="6.0" height="4.98" fill="#1b82b8"/>
<rect x="747.53" y="116.54" width="6.0" height="10.58" fill="#c7c7c9"/>
<rect x="747.53" y="193.60" width="6.0" height="19.81" fill="#f9b94a"/>
<rect x="747.53" y="213.41" width="6.0" height="8.65" fill="#a6d1a9"/>
<rect x="756.70" y="155.72" width="6.0" height="37.88" fill="#b1132c"/>
<rect x="756.70" y="131.73" width="6.0" height="23.99" fill="#ec6e80"/>
<rect x="756.70" y="120.57" width="6.0" height="11.16" fill="#1b82b8"/>
<rect x="756.70" y="113.08" width="6.0" height="7.49" fill="#c7c7c9"/>
<rect x="756.70" y="193.60" width="6.0" height="22.14" fill="#f9b94a"/>
<rect x="756.70" y="215.74" width="6.0" height="10.94" fill="#a6d1a9"/>
<rect x="765.87" y="159.18" width="6.0" height="34.42" fill="#b1132c"/>
<rect x="765.87" y="139.00" width="6.0" height="20.17" fill="#ec6e80"/>
<rect x="765.87" y="126.32" width="6.0" height="12.69" fill="#1b82b8"/>
<rect x="765.87" y="124.35" width="6.0" height="1.96" fill="#c7c7c9"/>
<rect x="765.87" y="193.60" width="6.0" height="19.23" fill="#f9b94a"/>
<rect x="765.87" y="212.83" width="6.0" height="6.94" fill="#8ecaf2"/>
<rect x="765.87" y="219.77" width="6.0" height="9.78" fill="#a6d1a9"/>
<rect x="775.04" y="162.63" width="6.0" height="30.97" fill="#b1132c"/>
<rect x="775.04" y="145.58" width="6.0" height="17.05" fill="#ec6e80"/>
<rect x="775.04" y="127.12" width="6.0" height="18.47" fill="#1b82b8"/>
<rect x="775.04" y="193.60" width="6.0" height="14.07" fill="#f9b94a"/>
<rect x="775.04" y="207.67" width="6.0" height="10.36" fill="#8ecaf2"/>
<rect x="775.04" y="218.03" width="6.0" height="11.52" fill="#a6d1a9"/>
<rect x="784.22" y="165.86" width="6.0" height="27.74" fill="#b1132c"/>
<rect x="784.22" y="147.65" width="6.0" height="18.21" fill="#ec6e80"/>
<rect x="784.22" y="130.13" width="6.0" height="17.52" fill="#1b82b8"/>
<rect x="784.22" y="193.60" width="6.0" height="8.87" fill="#f9b94a"/>
<rect x="784.22" y="202.47" width="6.0" height="9.45" fill="#8ecaf2"/>
<rect x="784.22" y="211.92" width="6.0" height="8.43" fill="#a6d1a9"/>
<rect x="784.22" y="220.35" width="6.0" height="14.39" fill="#c7c7c9"/>
<rect x="793.39" y="164.12" width="6.0" height="29.48" fill="#b1132c"/>
<rect x="793.39" y="149.94" width="6.0" height="14.18" fill="#ec6e80"/>
<rect x="793.39" y="147.40" width="6.0" height="2.54" fill="#f9b94a"/>
<rect x="793.39" y="128.97" width="6.0" height="18.43" fill="#1b82b8"/>
<rect x="793.39" y="193.60" width="6.0" height="11.20" fill="#8ecaf2"/>
<rect x="793.39" y="204.80" width="6.0" height="7.49" fill="#a6d1a9"/>
<rect x="793.39" y="212.28" width="6.0" height="9.78" fill="#c7c7c9"/>
<rect x="802.56" y="162.05" width="6.0" height="31.55" fill="#b1132c"/>
<rect x="802.56" y="150.53" width="6.0" height="11.52" fill="#ec6e80"/>
<rect x="802.56" y="142.46" width="6.0" height="8.07" fill="#f9b94a"/>
<rect x="802.56" y="126.32" width="6.0" height="16.14" fill="#1b82b8"/>
<rect x="802.56" y="193.60" width="6.0" height="14.65" fill="#8ecaf2"/>
<rect x="802.56" y="208.25" width="6.0" height="7.49" fill="#a6d1a9"/>
<rect x="802.56" y="215.74" width="6.0" height="6.32" fill="#c7c7c9"/>
<rect x="811.73" y="163.54" width="6.0" height="30.06" fill="#b1132c"/>
<rect x="811.73" y="151.11" width="6.0" height="12.43" fill="#ec6e80"/>
<rect x="811.73" y="141.29" width="6.0" height="9.81" fill="#f9b94a"/>
<rect x="811.73" y="128.06" width="6.0" height="13.23" fill="#1b82b8"/>
<rect x="811.73" y="193.60" width="6.0" height="18.68" fill="#8ecaf2"/>
<rect x="811.73" y="212.28" width="6.0" height="10.94" fill="#a6d1a9"/>
<rect x="820.90" y="162.05" width="6.0" height="31.55" fill="#b1132c"/>
<rect x="820.90" y="149.36" width="6.0" height="12.69" fill="#ec6e80"/>
<rect x="820.90" y="137.84" width="6.0" height="11.52" fill="#f9b94a"/>
<rect x="820.90" y="129.77" width="6.0" height="8.07" fill="#1b82b8"/>
<rect x="820.90" y="128.64" width="6.0" height="1.13" fill="#c7c7c9"/>
<rect x="820.90" y="193.60" width="6.0" height="19.23" fill="#8ecaf2"/>
<rect x="820.90" y="212.83" width="6.0" height="5.78" fill="#a6d1a9"/>
<rect x="830.08" y="162.05" width="6.0" height="31.55" fill="#b1132c"/>
<rect x="830.08" y="149.36" width="6.0" height="12.69" fill="#ec6e80"/>
<rect x="830.08" y="138.64" width="6.0" height="10.72" fill="#f9b94a"/>
<rect x="830.08" y="132.68" width="6.0" height="5.96" fill="#1b82b8"/>
<rect x="830.08" y="193.60" width="6.0" height="15.19" fill="#8ecaf2"/>
<rect x="830.08" y="208.79" width="6.0" height="5.78" fill="#a6d1a9"/>
<rect x="830.08" y="214.57" width="6.0" height="6.69" fill="#c7c7c9"/>
<rect x="839.25" y="159.18" width="6.0" height="34.42" fill="#b1132c"/>
<rect x="839.25" y="147.07" width="6.0" height="12.10" fill="#ec6e80"/>
<rect x="839.25" y="128.97" width="6.0" height="18.10" fill="#f9b94a"/>
<rect x="839.25" y="127.12" width="6.0" height="1.85" fill="#1b82b8"/>
<rect x="839.25" y="193.60" width="6.0" height="14.07" fill="#8ecaf2"/>
<rect x="839.25" y="207.67" width="6.0" height="5.74" fill="#a6d1a9"/>
<rect x="848.42" y="158.99" width="6.0" height="34.61" fill="#b1132c"/>
<rect x="848.42" y="148.31" width="6.0" height="10.69" fill="#ec6e80"/>
<rect x="848.42" y="121.95" width="6.0" height="26.35" fill="#f9b94a"/>
<rect x="848.42" y="117.12" width="6.0" height="4.83" fill="#1b82b8"/>
<rect x="848.42" y="193.60" width="6.0" height="14.65" fill="#8ecaf2"/>
<rect x="848.42" y="208.25" width="6.0" height="6.32" fill="#a6d1a9"/>
<rect x="848.42" y="214.57" width="6.0" height="10.14" fill="#c7c7c9"/>
<rect x="857.59" y="163.25" width="6.0" height="30.35" fill="#b1132c"/>
<rect x="857.59" y="153.98" width="6.0" height="9.27" fill="#ec6e80"/>
<rect x="857.59" y="118.39" width="6.0" height="35.59" fill="#f9b94a"/>
<rect x="857.59" y="193.60" width="6.0" height="11.52" fill="#8ecaf2"/>
<rect x="857.59" y="205.12" width="6.0" height="4.62" fill="#1b82b8"/>
<rect x="857.59" y="209.74" width="6.0" height="2.54" fill="#a6d1a9"/>
<rect x="857.59" y="212.28" width="6.0" height="8.98" fill="#c7c7c9"/>
<rect x="866.76" y="162.52" width="6.0" height="31.08" fill="#b1132c"/>
<rect x="866.76" y="151.14" width="6.0" height="11.38" fill="#ec6e80"/>
<rect x="866.76" y="114.83" width="6.0" height="36.31" fill="#f9b94a"/>
<rect x="866.76" y="193.60" width="6.0" height="6.00" fill="#8ecaf2"/>
<rect x="866.76" y="199.60" width="6.0" height="12.69" fill="#1b82b8"/>
<rect x="866.76" y="212.28" width="6.0" height="2.87" fill="#a6d1a9"/>
<rect x="866.76" y="215.16" width="6.0" height="5.20" fill="#c7c7c9"/>
<rect x="875.94" y="158.99" width="6.0" height="34.61" fill="#b1132c"/>
<rect x="875.94" y="143.33" width="6.0" height="15.67" fill="#ec6e80"/>
<rect x="875.94" y="112.43" width="6.0" height="30.90" fill="#f9b94a"/>
<rect x="875.94" y="193.60" width="6.0" height="3.45" fill="#8ecaf2"/>
<rect x="875.94" y="197.05" width="6.0" height="16.14" fill="#1b82b8"/>
<rect x="875.94" y="213.19" width="6.0" height="1.38" fill="#a6d1a9"/>
<rect x="885.11" y="152.12" width="6.0" height="41.48" fill="#b1132c"/>
<rect x="885.11" y="136.20" width="6.0" height="15.92" fill="#ec6e80"/>
<rect x="885.11" y="99.89" width="6.0" height="36.31" fill="#f9b94a"/>
<rect x="885.11" y="93.20" width="6.0" height="6.69" fill="#c7c7c9"/>
<rect x="885.11" y="193.60" width="6.0" height="5.20" fill="#8ecaf2"/>
<rect x="885.11" y="198.80" width="6.0" height="21.56" fill="#1b82b8"/>
<rect x="885.11" y="220.35" width="6.0" height="2.51" fill="#a6d1a9"/>
<rect x="894.28" y="146.16" width="6.0" height="47.44" fill="#b1132c"/>
<rect x="894.28" y="126.24" width="6.0" height="19.92" fill="#ec6e80"/>
<rect x="894.28" y="99.89" width="6.0" height="26.35" fill="#f9b94a"/>
<rect x="894.28" y="73.25" width="6.0" height="26.64" fill="#c7c7c9"/>
<rect x="894.28" y="193.60" width="6.0" height="5.20" fill="#8ecaf2"/>
<rect x="894.28" y="198.80" width="6.0" height="22.46" fill="#1b82b8"/>
<rect x="894.28" y="221.26" width="6.0" height="2.29" fill="#a6d1a9"/>
<rect x="903.45" y="139.77" width="6.0" height="53.83" fill="#b1132c"/>
<rect x="903.45" y="118.39" width="6.0" height="21.37" fill="#ec6e80"/>
<rect x="903.45" y="97.75" width="6.0" height="20.65" fill="#f9b94a"/>
<rect x="903.45" y="81.39" width="6.0" height="16.36" fill="#c7c7c9"/>
<rect x="903.45" y="193.60" width="6.0" height="3.45" fill="#8ecaf2"/>
<rect x="903.45" y="197.05" width="6.0" height="25.01" fill="#1b82b8"/>
<rect x="903.45" y="222.06" width="6.0" height="2.29" fill="#a6d1a9"/>
<rect x="912.62" y="139.04" width="6.0" height="54.56" fill="#b1132c"/>
<rect x="912.62" y="115.56" width="6.0" height="23.48" fill="#ec6e80"/>
<rect x="912.62" y="95.60" width="6.0" height="19.96" fill="#f9b94a"/>
<rect x="912.62" y="79.68" width="6.0" height="15.92" fill="#c7c7c9"/>
<rect x="912.62" y="193.60" width="6.0" height="1.38" fill="#8ecaf2"/>
<rect x="912.62" y="194.98" width="6.0" height="26.28" fill="#1b82b8"/>
<rect x="912.62" y="221.26" width="6.0" height="3.09" fill="#a6d1a9"/>
<rect x="921.80" y="139.04" width="6.0" height="54.56" fill="#b1132c"/>
<rect x="921.80" y="110.58" width="6.0" height="28.46" fill="#ec6e80"/>
<rect x="921.80" y="95.60" width="6.0" height="14.98" fill="#f9b94a"/>
<rect x="921.80" y="80.66" width="6.0" height="14.94" fill="#c7c7c9"/>
<rect x="921.80" y="193.60" width="6.0" height="0.47" fill="#8ecaf2"/>
<rect x="921.80" y="194.07" width="6.0" height="23.74" fill="#1b82b8"/>
<rect x="921.80" y="217.81" width="6.0" height="5.05" fill="#a6d1a9"/>
<rect x="930.97" y="136.20" width="6.0" height="57.40" fill="#b1132c"/>
<rect x="930.97" y="107.70" width="6.0" height="28.50" fill="#ec6e80"/>
<rect x="930.97" y="96.04" width="6.0" height="11.67" fill="#f9b94a"/>
<rect x="930.97" y="89.49" width="6.0" height="6.54" fill="#c7c7c9"/>
<rect x="930.97" y="193.60" width="6.0" height="1.38" fill="#8ecaf2"/>
<rect x="930.97" y="194.98" width="6.0" height="16.72" fill="#1b82b8"/>
<rect x="930.97" y="211.70" width="6.0" height="5.74" fill="#a6d1a9"/>
<rect x="940.14" y="129.37" width="6.0" height="64.23" fill="#b1132c"/>
<rect x="940.14" y="100.58" width="6.0" height="28.79" fill="#ec6e80"/>
<rect x="940.14" y="91.35" width="6.0" height="9.23" fill="#f9b94a"/>
<rect x="940.14" y="193.60" width="6.0" height="1.38" fill="#8ecaf2"/>
<rect x="940.14" y="194.98" width="6.0" height="15.92" fill="#1b82b8"/>
<rect x="940.14" y="210.90" width="6.0" height="6.54" fill="#a6d1a9"/>
<rect x="949.31" y="134.35" width="6.0" height="59.25" fill="#b1132c"/>
<rect x="949.31" y="108.43" width="6.0" height="25.92" fill="#ec6e80"/>
<rect x="949.31" y="104.14" width="6.0" height="4.29" fill="#f9b94a"/>
<rect x="949.31" y="193.60" width="6.0" height="4.25" fill="#8ecaf2"/>
<rect x="949.31" y="197.85" width="6.0" height="9.81" fill="#1b82b8"/>
<rect x="949.31" y="207.67" width="6.0" height="5.74" fill="#a6d1a9"/>
<rect x="949.31" y="213.41" width="6.0" height="2.33" fill="#c7c7c9"/>
<rect x="958.48" y="131.91" width="6.0" height="61.69" fill="#b1132c"/>
<rect x="958.48" y="106.29" width="6.0" height="25.63" fill="#ec6e80"/>
<rect x="958.48" y="100.33" width="6.0" height="5.96" fill="#c7c7c9"/>
<rect x="958.48" y="193.60" width="6.0" height="7.16" fill="#8ecaf2"/>
<rect x="958.48" y="200.76" width="6.0" height="14.39" fill="#1b82b8"/>
<rect x="958.48" y="215.16" width="6.0" height="6.32" fill="#a6d1a9"/>
<rect x="967.66" y="134.79" width="6.0" height="58.81" fill="#b1132c"/>
<rect x="967.66" y="108.43" width="6.0" height="26.35" fill="#ec6e80"/>
<rect x="967.66" y="107.41" width="6.0" height="1.02" fill="#f9b94a"/>
<rect x="967.66" y="193.60" width="6.0" height="4.25" fill="#8ecaf2"/>
<rect x="967.66" y="197.85" width="6.0" height="13.05" fill="#1b82b8"/>
<rect x="967.66" y="210.90" width="6.0" height="6.54" fill="#a6d1a9"/>
<rect x="976.83" y="132.64" width="6.0" height="60.96" fill="#b1132c"/>
<rect x="976.83" y="106.00" width="6.0" height="26.64" fill="#ec6e80"/>
<rect x="976.83" y="193.60" width="6.0" height="8.29" fill="#8ecaf2"/>
<rect x="976.83" y="201.89" width="6.0" height="8.65" fill="#1b82b8"/>
<rect x="976.83" y="210.54" width="6.0" height="6.32" fill="#a6d1a9"/>
<rect x="976.83" y="216.86" width="6.0" height="4.40" fill="#c7c7c9"/>
<rect x="986.00" y="129.77" width="6.0" height="63.83" fill="#b1132c"/>
<rect x="986.00" y="103.74" width="6.0" height="26.03" fill="#ec6e80"/>
<rect x="986.00" y="91.35" width="6.0" height="12.40" fill="#f9b94a"/>
<rect x="986.00" y="193.60" width="6.0" height="9.45" fill="#8ecaf2"/>
<rect x="986.00" y="203.05" width="6.0" height="6.69" fill="#1b82b8"/>
<rect x="986.00" y="209.74" width="6.0" height="7.12" fill="#a6d1a9"/>
<rect x="986.00" y="216.86" width="6.0" height="6.36" fill="#c7c7c9"/>
<rect x="995.17" y="131.62" width="6.0" height="61.98" fill="#b1132c"/>
<rect x="995.17" y="103.16" width="6.0" height="28.46" fill="#ec6e80"/>
<rect x="995.17" y="193.60" width="6.0" height="6.00" fill="#8ecaf2"/>
<rect x="995.17" y="199.60" width="6.0" height="6.32" fill="#1b82b8"/>
<rect x="995.17" y="205.92" width="6.0" height="4.03" fill="#a6d1a9"/>
<rect x="995.17" y="209.96" width="6.0" height="9.56" fill="#c7c7c9"/>
<rect x="1004.34" y="132.20" width="6.0" height="61.40" fill="#b1132c"/>
<rect x="1004.34" y="104.14" width="6.0" height="28.06" fill="#ec6e80"/>
<rect x="1004.34" y="193.60" width="6.0" height="7.49" fill="#8ecaf2"/>
<rect x="1004.34" y="201.09" width="6.0" height="5.63" fill="#1b82b8"/>
<rect x="1004.34" y="206.72" width="6.0" height="7.85" fill="#a6d1a9"/>
<rect x="1004.34" y="214.57" width="6.0" height="12.10" fill="#c7c7c9"/>
<rect x="1013.52" y="134.35" width="6.0" height="59.25" fill="#b1132c"/>
<rect x="1013.52" y="107.70" width="6.0" height="26.64" fill="#ec6e80"/>
<rect x="1013.52" y="193.60" width="6.0" height="8.29" fill="#8ecaf2"/>
<rect x="1013.52" y="201.89" width="6.0" height="4.83" fill="#1b82b8"/>
<rect x="1013.52" y="206.72" width="6.0" height="7.85" fill="#a6d1a9"/>
<rect x="1013.52" y="214.57" width="6.0" height="12.10" fill="#c7c7c9"/>
<rect x="1022.69" y="134.79" width="6.0" height="58.81" fill="#b1132c"/>
<rect x="1022.69" y="113.12" width="6.0" height="21.66" fill="#ec6e80"/>
<rect x="1022.69" y="193.60" width="6.0" height="7.49" fill="#8ecaf2"/>
<rect x="1022.69" y="201.09" width="6.0" height="4.83" fill="#1b82b8"/>
<rect x="1022.69" y="205.92" width="6.0" height="6.36" fill="#a6d1a9"/>
<rect x="1022.69" y="212.28" width="6.0" height="13.59" fill="#c7c7c9"/>
<rect x="1031.86" y="133.08" width="6.0" height="60.52" fill="#b1132c"/>
<rect x="1031.86" y="114.14" width="6.0" height="18.94" fill="#ec6e80"/>
<rect x="1031.86" y="193.60" width="6.0" height="4.83" fill="#f9b94a"/>
<rect x="1031.86" y="198.43" width="6.0" height="5.20" fill="#1b82b8"/>
<rect x="1031.86" y="203.63" width="6.0" height="3.45" fill="#a6d1a9"/>
<rect x="1031.86" y="207.09" width="6.0" height="14.18" fill="#c7c7c9"/>
<rect x="1041.03" y="133.33" width="6.0" height="60.27" fill="#b1132c"/>
<rect x="1041.03" y="114.14" width="6.0" height="19.19" fill="#ec6e80"/>
<rect x="1041.03" y="193.60" width="6.0" height="5.42" fill="#8ecaf2"/>
<rect x="1041.03" y="199.02" width="6.0" height="5.78" fill="#1b82b8"/>
<rect x="1041.03" y="204.80" width="6.0" height="4.00" fill="#a6d1a9"/>
<rect x="1041.03" y="208.79" width="6.0" height="5.20" fill="#c7c7c9"/>
<rect x="1050.20" y="136.89" width="6.0" height="56.71" fill="#b1132c"/>
<rect x="1050.20" y="120.25" width="6.0" height="16.65" fill="#ec6e80"/>
<rect x="1050.20" y="115.99" width="6.0" height="4.25" fill="#f9b94a"/>
<rect x="1050.20" y="108.43" width="6.0" height="7.56" fill="#c7c7c9"/>
<rect x="1050.20" y="193.60" width="6.0" height="10.61" fill="#8ecaf2"/>
<rect x="1050.20" y="204.21" width="6.0" height="5.53" fill="#1b82b8"/>
<rect x="1050.20" y="209.74" width="6.0" height="2.54" fill="#a6d1a9"/>
<rect x="1059.38" y="139.77" width="6.0" height="53.83" fill="#b1132c"/>
<rect x="1059.38" y="128.35" width="6.0" height="11.41" fill="#ec6e80"/>
<rect x="1059.38" y="121.23" width="6.0" height="7.12" fill="#f9b94a"/>
<rect x="1059.38" y="114.83" width="6.0" height="6.40" fill="#c7c7c9"/>
<rect x="1059.38" y="193.60" width="6.0" height="11.52" fill="#8ecaf2"/>
<rect x="1059.38" y="205.12" width="6.0" height="5.78" fill="#1b82b8"/>
<rect x="1059.38" y="210.90" width="6.0" height="1.38" fill="#a6d1a9"/>
<path d="M71.8,151.1 L81.0,158.2 L90.1,157.4 L99.3,151.1 L108.5,155.1 L117.7,150.5 L126.8,148.6 L136.0,147.9 L145.2,150.2 L154.3,146.5 L163.5,149.4 L172.7,152.2 L181.9,159.2 L191.0,149.4 L200.2,148.8 L209.4,151.7 L218.6,155.1 L227.7,156.3 L236.9,155.1 L246.1,160.3 L255.2,160.1 L264.4,158.2 L273.6,156.5 L282.8,156.1 L291.9,154.9 L301.1,158.2 L310.3,158.8 L319.4,156.3 L328.6,151.4 L337.8,155.1 L347.0,151.7 L356.1,149.9 L365.3,147.7 L374.5,149.9 L383.6,151.1 L392.8,149.4 L402.0,151.7 L411.2,154.8 L420.3,156.6 L429.5,160.3 L438.7,164.9 L447.9,164.9 L457.0,166.1 L466.2,164.9 L475.4,165.5 L484.5,160.3 L493.7,160.9 L502.9,158.2 L512.1,158.0 L521.2,155.1 L530.4,152.2 L539.6,143.6 L548.7,142.5 L557.9,143.6 L567.1,139.0 L576.3,136.1 L585.4,134.1 L594.6,133.8 L603.8,133.8 L612.9,141.9 L622.1,143.6 L631.3,142.8 L640.5,144.7 L649.6,153.4 L658.8,150.2 L668.0,149.4 L677.2,156.9 L686.3,161.5 L695.5,161.8 L704.7,162.6 L713.8,159.2 L723.0,151.7 L732.2,146.5 L741.4,144.2 L750.5,137.8 L759.7,130.9 L768.9,135.9 L778.0,133.2 L787.2,130.9 L796.4,122.3 L805.6,111.3 L814.7,106.1 L823.9,104.4 L833.1,107.7 L842.2,105.6 L851.4,99.2 L860.6,99.2 L869.8,104.1 L878.9,107.3 L888.1,102.3 L897.3,100.6 L906.5,103.5 L915.6,109.8 L924.8,118.4 L934.0,118.8 L943.1,118.8 L952.3,122.0 L961.5,123.7 L970.7,126.2 L979.8,128.8 L989.0,114.1 L998.2,122.7 L1007.3,124.5 L1016.5,126.2 L1025.7,127.7 L1034.9,124.5 L1044.0,122.2 L1053.2,120.5 L1062.4,123.1" fill="none" stroke="#c6353b" stroke-width="1.6" stroke-linejoin="round"/>
<path d="M71.8,151.1 L81.0,158.2 L90.1,157.4 L99.3,151.1 L108.5,155.1 L117.7,152.5 L126.8,156.3 L136.0,159.8 L145.2,163.8 L154.3,167.2 L163.5,170.1 L172.7,172.4 L181.9,178.2 L191.0,167.8 L200.2,167.2 L209.4,170.7 L218.6,172.4 L227.7,170.9 L236.9,169.8 L246.1,169.3 L255.2,169.0 L264.4,167.2 L273.6,164.9 L282.8,163.2 L291.9,161.7 L301.1,165.5 L310.3,169.0 L319.4,165.5 L328.6,162.3 L337.8,164.9 L347.0,162.3 L356.1,163.0 L365.3,163.2 L374.5,163.4 L383.6,164.0 L392.8,164.3 L402.0,164.0 L411.2,169.0 L420.3,164.3 L429.5,167.8 L438.7,168.4 L447.9,168.2 L457.0,168.2 L466.2,166.7 L475.4,167.2 L484.5,163.8 L493.7,163.8 L502.9,163.2 L512.1,164.9 L521.2,164.3 L530.4,163.8 L539.6,160.1 L548.7,158.6 L557.9,158.6 L567.1,155.1 L576.3,152.8 L585.4,150.9 L594.6,150.3 L603.8,150.3 L612.9,150.7 L622.1,147.4 L631.3,146.5 L640.5,146.7 L649.6,152.8 L658.8,150.9 L668.0,150.3 L677.2,156.9 L686.3,160.1 L695.5,158.6 L704.7,155.7 L713.8,154.0 L723.0,152.2 L732.2,151.1 L741.4,151.1 L750.5,153.4 L759.7,152.8 L768.9,153.4 L778.0,149.9 L787.2,147.1 L796.4,143.0 L805.6,140.2 L814.7,141.3 L823.9,143.6 L833.1,145.9 L842.2,142.6 L851.4,139.8 L860.6,137.6 L869.8,135.5 L878.9,139.3 L888.1,136.2 L897.3,133.1 L906.5,134.8 L915.6,136.2 L924.8,137.9 L934.0,135.0 L943.1,134.1 L952.3,136.2 L961.5,139.0 L970.7,140.5 L979.8,141.2 L989.0,126.9 L998.2,133.1 L1007.3,135.5 L1016.5,137.6 L1025.7,141.9 L1034.9,139.0 L1044.0,135.5 L1053.2,134.8 L1062.4,137.6" fill="none" stroke="#3b78b0" stroke-width="1.6" stroke-opacity="0.9" stroke-linejoin="round"/>
<path d="M71.8,121.4 L81.0,147.4 L90.1,132.7 L99.3,135.2 L108.5,133.8 L117.7,129.6 L126.8,141.3 L136.0,145.9 L145.2,165.5 L154.3,171.6 L163.5,173.0 L172.7,174.7 L181.9,196.0 L191.0,190.9 L200.2,193.2 L209.4,188.9 L218.6,184.8 L227.7,184.8 L236.9,177.6 L246.1,180.2 L255.2,178.8 L264.4,175.9 L273.6,173.6 L282.8,172.4 L291.9,166.7 L301.1,172.1 L310.3,171.8 L319.4,163.8 L328.6,154.6 L337.8,156.3 L347.0,157.4 L356.1,158.6 L365.3,150.3 L374.5,152.2 L383.6,152.8 L392.8,152.2 L402.0,148.6 L411.2,155.1 L420.3,149.7 L429.5,157.4 L438.7,165.5 L447.9,164.9 L457.0,169.5 L466.2,167.2 L475.4,168.4 L484.5,165.5 L493.7,166.7 L502.9,166.1 L512.1,174.2 L521.2,168.2 L530.4,163.8 L539.6,144.2 L548.7,147.7 L557.9,152.0 L567.1,146.5 L576.3,140.5 L585.4,140.2 L594.6,132.1 L603.8,131.7 L612.9,135.9 L622.1,132.7 L631.3,130.6 L640.5,138.4 L649.6,154.8 L658.8,149.9 L668.0,148.0 L677.2,154.0 L686.3,159.8 L695.5,159.4 L704.7,163.2 L713.8,164.0 L723.0,154.0 L732.2,152.5 L741.4,149.4 L750.5,143.9 L759.7,144.7 L768.9,157.4 L778.0,162.0 L787.2,170.1 L796.4,155.7 L805.6,153.7 L814.7,156.3 L823.9,152.5 L833.1,158.9 L842.2,145.4 L851.4,146.9 L860.6,144.5 L869.8,141.2 L878.9,131.9 L888.1,122.0 L897.3,102.7 L906.5,111.3 L915.6,109.4 L924.8,108.9 L934.0,112.0 L943.1,114.1 L952.3,125.1 L961.5,126.9 L970.7,129.8 L979.8,131.6 L989.0,119.8 L998.2,128.4 L1007.3,134.8 L1016.5,138.7 L1025.7,142.6 L1034.9,139.8 L1044.0,133.3 L1053.2,126.2 L1062.4,133.1" fill="none" stroke="#000" stroke-width="1.9" stroke-linejoin="round"/>
<circle cx="29.6" cy="312.7" r="5.5" fill="#c8c9cb"/>
<text x="44.5" y="316.1" class="lg" textLength="332.3" lengthAdjust="spacingAndGlyphs">Валютная переоценка, прочие активы и обязательства</text>
<circle cx="29.6" cy="333.4" r="5.5" fill="#1f84bf"/>
<text x="44.5" y="336.8" class="lg" textLength="185.9" lengthAdjust="spacingAndGlyphs">ЧИА кредитных организаций*</text>
<circle cx="29.6" cy="353.7" r="5.5" fill="#f9b54c"/>
<text x="44.5" y="357.1" class="lg" textLength="44.5" lengthAdjust="spacingAndGlyphs">ЧТОГУ*</text>
<circle cx="29.6" cy="374.4" r="5.5" fill="#b3142e"/>
<text x="44.5" y="377.8" class="lg" textLength="307.4" lengthAdjust="spacingAndGlyphs">Требования банковской системы к организациям*</text>
<path d="M23.8,395.4 L29.6,389.59999999999997 L35.4,395.4 L29.6,401.2Z" fill="#000"/>
<text x="44.5" y="398.8" class="lg" textLength="71.5" lengthAdjust="spacingAndGlyphs">М2Х (г/г, %)</text>
<circle cx="426.6" cy="312.7" r="5.5" fill="#a6d1a9"/>
<text x="441.5" y="316.1" class="lg" textLength="162.9" lengthAdjust="spacingAndGlyphs">Средства на счетах эскроу</text>
<circle cx="426.6" cy="333.4" r="5.5" fill="#8ecaf2"/>
<text x="441.5" y="336.8" class="lg" textLength="116.0" lengthAdjust="spacingAndGlyphs">ЧИА Банка России*</text>
<circle cx="426.6" cy="353.7" r="5.5" fill="#ec7080"/>
<text x="441.5" y="357.1" class="lg" textLength="360.4" lengthAdjust="spacingAndGlyphs">Требования банковской системы к домашним хозяйствам*</text>
<circle cx="426.6" cy="374.4" r="5.5" fill="#c8323a"/>
<text x="441.5" y="377.8" class="lg" textLength="63.6" lengthAdjust="spacingAndGlyphs">М2 (г/г, %)</text>
<rect x="421.1" y="389.9" width="11" height="11" fill="#1f8fcf"/>
<text x="442.8" y="398.8" class="lg" textLength="77.2" lengthAdjust="spacingAndGlyphs">М2Х* (г/г, %)</text>
<line x1="57" x2="1077" y1="553.5" y2="553.5" stroke="#e4e4e6" stroke-width="1"/>
<text x="45" y="558.1" text-anchor="end" class="ax">30</text>
<text x="1090" y="558.1" text-anchor="start" class="ax">30</text>
<line x1="57" x2="1077" y1="592.5" y2="592.5" stroke="#e4e4e6" stroke-width="1"/>
<text x="45" y="595.7" text-anchor="end" class="ax">25</text>
<text x="1090" y="595.7" text-anchor="start" class="ax">25</text>
<line x1="57" x2="1077" y1="629.5" y2="629.5" stroke="#e4e4e6" stroke-width="1"/>
<text x="45" y="633.3" text-anchor="end" class="ax">20</text>
<text x="1090" y="633.3" text-anchor="start" class="ax">20</text>
<line x1="57" x2="1077" y1="667.5" y2="667.5" stroke="#e4e4e6" stroke-width="1"/>
<text x="45" y="670.9" text-anchor="end" class="ax">15</text>
<text x="1090" y="670.9" text-anchor="start" class="ax">15</text>
<line x1="57" x2="1077" y1="704.5" y2="704.5" stroke="#e4e4e6" stroke-width="1"/>
<text x="45" y="708.5" text-anchor="end" class="ax">10</text>
<text x="1090" y="708.5" text-anchor="start" class="ax">10</text>
<line x1="57" x2="1077" y1="742.5" y2="742.5" stroke="#e4e4e6" stroke-width="1"/>
<text x="45" y="746.1" text-anchor="end" class="ax">5</text>
<text x="1090" y="746.1" text-anchor="start" class="ax">5</text>
<line x1="57" x2="1077" y1="779.5" y2="779.5" stroke="#e4e4e6" stroke-width="1"/>
<text x="45" y="783.7" text-anchor="end" class="ax">0</text>
<text x="1090" y="783.7" text-anchor="start" class="ax">0</text>
<line x1="57" x2="1077" y1="817.5" y2="817.5" stroke="#e4e4e6" stroke-width="1"/>
<text x="45" y="821.3" text-anchor="end" class="ax">-5</text>
<text x="1090" y="821.3" text-anchor="start" class="ax">-5</text>
<line x1="57" x2="1077" y1="854.5" y2="854.5" stroke="#e4e4e6" stroke-width="1"/>
<text x="45" y="858.9" text-anchor="end" class="ax">-10</text>
<text x="1090" y="858.9" text-anchor="start" class="ax">-10</text>
<line x1="67.5" x2="67.5" y1="553.5" y2="858.5" stroke="#f1f1f3" stroke-width="1"/>
<text x="67.5" y="872.3" text-anchor="middle" class="ax">2016</text>
<line x1="178.5" x2="178.5" y1="553.5" y2="858.5" stroke="#f1f1f3" stroke-width="1"/>
<text x="178.5" y="872.3" text-anchor="middle" class="ax">2017</text>
<line x1="289.5" x2="289.5" y1="553.5" y2="858.5" stroke="#f1f1f3" stroke-width="1"/>
<text x="289.5" y="872.3" text-anchor="middle" class="ax">2018</text>
<line x1="400.5" x2="400.5" y1="553.5" y2="858.5" stroke="#f1f1f3" stroke-width="1"/>
<text x="400.5" y="872.3" text-anchor="middle" class="ax">2019</text>
<line x1="511.5" x2="511.5" y1="553.5" y2="858.5" stroke="#f1f1f3" stroke-width="1"/>
<text x="511.5" y="872.3" text-anchor="middle" class="ax">2020</text>
<line x1="622.5" x2="622.5" y1="553.5" y2="858.5" stroke="#f1f1f3" stroke-width="1"/>
<text x="622.5" y="872.3" text-anchor="middle" class="ax">2021</text>
<line x1="733.5" x2="733.5" y1="553.5" y2="858.5" stroke="#f1f1f3" stroke-width="1"/>
<text x="733.5" y="872.3" text-anchor="middle" class="ax">2022</text>
<line x1="844.5" x2="844.5" y1="553.5" y2="858.5" stroke="#f1f1f3" stroke-width="1"/>
<text x="844.5" y="872.3" text-anchor="middle" class="ax">2023</text>
<line x1="955.5" x2="955.5" y1="553.5" y2="858.5" stroke="#f1f1f3" stroke-width="1"/>
<text x="955.5" y="872.3" text-anchor="middle" class="ax">2024</text>
<line x1="1066.5" x2="1066.5" y1="553.5" y2="858.5" stroke="#f1f1f3" stroke-width="1"/>
<text x="1066.5" y="872.3" text-anchor="middle" class="ax">2025</text>
<path d="M67.4,730.9 L76.6,735.7 L85.9,743.1 L95.1,726.2 L104.4,733.1 L113.6,731.8 L122.9,728.4 L132.1,723.0 L141.4,730.5 L150.6,734.0 L159.9,735.3 L169.1,741.5 L178.4,748.4 L187.6,735.2 L196.9,737.0 L206.1,736.7 L215.4,735.2 L224.6,735.9 L233.9,735.2 L243.1,735.9 L252.4,729.0 L261.6,722.7 L270.9,715.9 L280.1,710.2 L289.4,717.0 L298.6,726.0 L307.9,725.5 L317.1,725.5 L326.4,726.0 L335.6,729.5 L344.9,733.1 L354.1,729.5 L363.4,734.4 L372.6,737.1 L381.9,739.2 L391.1,749.3 L400.4,743.4 L409.6,730.0 L418.9,730.0 L428.1,728.6 L437.4,732.1 L446.6,731.5 L455.9,726.8 L465.1,733.4 L474.4,732.5 L483.6,730.2 L492.9,735.3 L502.1,725.3 L511.4,726.4 L520.6,745.8 L529.9,739.2 L539.1,732.2 L548.3,729.0 L557.6,729.0 L566.8,722.0 L576.1,720.5 L585.3,718.4 L594.6,719.1 L603.8,717.6 L613.1,711.1 L622.3,703.1 L631.6,697.8 L640.8,697.8 L650.1,712.3 L659.3,704.6 L668.6,695.1 L677.8,702.5 L687.1,698.6 L696.3,697.2 L705.6,690.5 L714.8,685.6 L724.1,690.9 L733.3,698.5 L742.6,696.0 L751.8,678.9 L761.1,674.9 L770.3,683.4 L779.6,692.4 L788.8,695.1 L798.1,697.8 L807.3,692.4 L816.6,697.4 L825.8,692.1 L835.1,692.4 L844.3,680.6 L853.6,683.0 L862.8,695.4 L872.1,694.8 L881.3,683.3 L890.6,663.6 L899.8,649.4 L909.1,632.5 L918.3,630.2 L927.6,619.4 L936.8,621.2 L946.1,604.1 L955.3,607.5 L964.6,605.4 L973.8,610.1 L983.1,605.4 L992.3,605.0 L1001.5,603.1 L1010.8,606.8 L1020.0,615.5 L1029.3,621.6 L1038.5,618.9 L1047.8,618.0 L1057.0,627.8 L1066.3,637.5" fill="none" stroke="#559a6c" stroke-width="1.5" stroke-linejoin="round"/>
<path d="M67.4,755.4 L76.6,756.9 L85.9,760.8 L95.1,745.7 L104.4,749.6 L113.6,747.8 L122.9,743.5 L132.1,738.3 L141.4,743.1 L150.6,744.8 L159.9,744.8 L169.1,748.7 L178.4,753.2 L187.6,741.3 L196.9,742.7 L206.1,741.0 L215.4,738.1 L224.6,737.0 L233.9,735.9 L243.1,736.5 L252.4,729.0 L261.6,722.2 L270.9,714.2 L280.1,707.0 L289.4,710.6 L298.6,714.7 L307.9,712.9 L317.1,711.3 L326.4,710.5 L335.6,710.6 L344.9,712.2 L354.1,708.2 L363.4,711.0 L372.6,711.3 L381.9,711.8 L391.1,719.0 L400.4,714.5 L409.6,699.0 L418.9,698.8 L428.1,698.4 L437.4,700.8 L446.6,700.4 L455.9,697.5 L465.1,704.1 L474.4,704.1 L483.6,702.6 L492.9,708.9 L502.1,702.6 L511.4,703.8 L520.6,722.7 L529.9,716.9 L539.1,711.1 L548.3,714.4 L557.6,717.6 L566.8,713.3 L576.1,711.3 L585.3,709.3 L594.6,708.9 L603.8,705.9 L613.1,702.6 L622.3,698.3 L631.6,693.3 L640.8,692.6 L650.1,703.1 L659.3,691.9 L668.6,680.0 L677.8,681.3 L687.1,677.8 L696.3,676.5 L705.6,671.5 L714.8,668.4 L724.1,672.0 L733.3,675.2 L742.6,672.8 L751.8,660.0 L761.1,661.1 L770.3,673.5 L779.6,686.4 L788.8,693.8 L798.1,697.5 L807.3,695.8 L816.6,699.2 L825.8,696.9 L835.1,696.5 L844.3,689.4 L853.6,692.0 L862.8,702.2 L872.1,697.5 L881.3,683.3 L890.6,663.6 L899.8,649.4 L909.1,635.9 L918.3,629.1 L927.6,617.6 L936.8,615.2 L946.1,603.1 L955.3,608.1 L964.6,606.3 L973.8,611.2 L983.1,605.8 L992.3,605.8 L1001.5,604.1 L1010.8,607.5 L1020.0,616.2 L1029.3,624.3 L1038.5,628.5 L1047.8,632.0 L1057.0,647.4 L1066.3,657.5" fill="none" stroke="#60666c" stroke-width="2.5" stroke-linejoin="round"/>
<path d="M67.4,827.0 L76.6,822.5 L85.9,814.8 L95.1,807.0 L104.4,800.5 L113.6,795.7 L122.9,791.0 L132.1,787.9 L141.4,785.0 L150.6,780.4 L159.9,776.5 L169.1,771.3 L178.4,769.2 L187.6,766.6 L196.9,763.8 L206.1,755.8 L215.4,747.9 L224.6,743.3 L233.9,735.2 L243.1,731.3 L252.4,722.2 L261.6,714.2 L270.9,705.6 L280.1,696.0 L289.4,688.3 L298.6,675.4 L307.9,668.1 L317.1,660.9 L326.4,656.8 L335.6,648.0 L344.9,641.4 L354.1,635.0 L363.4,630.2 L372.6,622.9 L381.9,618.0 L391.1,613.5 L400.4,615.7 L409.6,599.9 L418.9,598.3 L428.1,603.0 L437.4,599.3 L446.6,601.8 L455.9,605.5 L465.1,612.5 L474.4,616.8 L483.6,621.4 L492.9,628.1 L502.1,636.5 L511.4,636.1 L520.6,655.3 L529.9,653.9 L539.1,653.1 L548.3,673.6 L557.6,683.8 L566.8,688.9 L576.1,685.7 L585.3,684.5 L594.6,682.0 L603.8,673.6 L613.1,678.7 L622.3,682.1 L631.6,681.1 L640.8,679.7 L650.1,677.6 L659.3,655.3 L668.6,639.5 L677.8,626.0 L687.1,623.6 L696.3,623.6 L705.6,623.4 L714.8,625.1 L724.1,623.4 L733.3,613.8 L742.6,613.1 L751.8,610.4 L761.1,626.9 L770.3,651.9 L779.6,670.1 L788.8,687.7 L798.1,694.5 L807.3,701.2 L816.6,703.2 L825.8,708.3 L835.1,705.2 L844.3,708.7 L853.6,712.1 L862.8,716.0 L872.1,703.5 L881.3,683.3 L890.6,663.6 L899.8,649.4 L909.1,643.3 L918.3,625.0 L927.6,611.5 L936.8,600.4 L946.1,596.9 L955.3,606.1 L964.6,604.5 L973.8,605.8 L983.1,606.8 L992.3,608.1 L1001.5,609.9 L1010.8,604.1 L1020.0,613.5 L1029.3,629.1 L1038.5,652.1 L1047.8,667.0 L1057.0,694.1 L1066.3,706.2" fill="none" stroke="#9c4577" stroke-width="1.5" stroke-linejoin="round"/>
<circle cx="29.6" cy="901.0" r="5.5" fill="#4f9a66"/>
<text x="44.5" y="904.4" class="lg" textLength="172.7" lengthAdjust="spacingAndGlyphs">Требования к организациям</text>
<path d="M233.7,901.0 L239.5,895.2 L245.3,901.0 L239.5,906.8Z" fill="#a5467e"/>
<text x="253.5" y="904.4" class="lg" textLength="226.2" lengthAdjust="spacingAndGlyphs">Требования к домашним хозяйствам</text>
<rect x="496.2" y="895.5" width="11" height="11" fill="#5d6369"/>
<text x="517" y="904.4" class="lg" textLength="152.0" lengthAdjust="spacingAndGlyphs">Требования к экономике</text>
</svg>
<div class="hr"></div>
<div class="fn">* Исключая валютную переоценку.</div>
<div class="t" style="top:511.2px">Годовые темпы прироста* требований к экономике, %</div>
<div class="r" style="top:512.6px">Рис. 3</div>
</body></html>
